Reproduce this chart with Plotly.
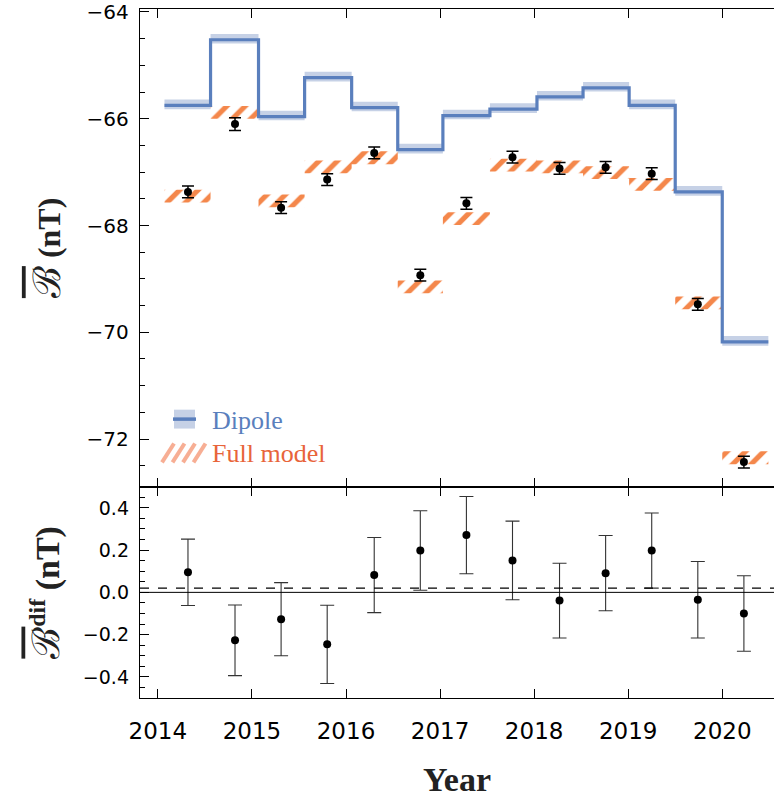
import plotly.graph_objects as go

# ---------------- data ----------------
bin_edges = [2014.07, 2014.56, 2015.07, 2015.56, 2016.06, 2016.55, 2017.03,
             2017.53, 2018.03, 2018.52, 2019.01, 2019.50, 2020.00, 2020.49]
t_mid = [2014.32, 2014.82, 2015.31, 2015.80, 2016.30, 2016.79, 2017.28,
         2017.77, 2018.27, 2018.76, 2019.25, 2019.74, 2020.23]
dipole = [-65.75, -64.52, -65.96, -65.23, -65.79, -66.58, -65.94,
          -65.82, -65.59, -65.42, -65.75, -67.37, -70.18]
dipole_band_lo = 0.07
dipole_band_hi = 0.11
full_model = [-67.45, -65.88, -67.54, -66.90, -66.73, -69.15, -67.87,
              -66.87, -66.90, -67.01, -67.23, -69.45, -72.35]
full_model_half = 0.12
observed = [-67.37, -66.10, -67.665, -67.14, -66.64, -68.93, -67.585,
            -66.72, -66.93, -66.91, -67.03, -69.475, -72.43]
observed_err = [0.11, 0.12, 0.11, 0.11, 0.11, 0.11, 0.11,
                0.11, 0.11, 0.11, 0.11, 0.11, 0.11]
dif = [0.095, -0.227, -0.127, -0.246, 0.082, 0.198, 0.271,
       0.151, -0.039, 0.091, 0.198, -0.035, -0.100]
dif_err = [0.157, 0.167, 0.173, 0.185, 0.178, 0.188, 0.183,
           0.186, 0.177, 0.178, 0.178, 0.181, 0.179]
dif_mean = 0.02

x_ticks = [2014, 2015, 2016, 2017, 2018, 2019, 2020]
x_ticktext = ["2014", "2015", "2016", "2017", "2018", "2019", "2020"]
y1_ticks = [-72, -70, -68, -66, -64]
y2_ticks = [-0.4, -0.2, 0.0, 0.2, 0.4]

BLUE = "#5a7fbd"
BAND = "#c6d1e6"
ORANGE = "#f4874b"
ORANGE_TXT = "#e8643a"

# ---------------- layout geometry ----------------
W, H = 774, 799
L, R, T, B = 140, 0, 5, 101
split_px = 485.5
ph = H - T - B
split = (H - B - split_px) / ph


def px_x(p):
    return (p - L) / (W - L - R)


def px_y(p):
    return (H - B - p) / ph


fig = go.Figure()

# Dipole uncertainty band (rectangles per bin)
bx, by = [], []
for i, v in enumerate(dipole):
    x0, x1 = bin_edges[i], bin_edges[i + 1]
    bx += [x0, x1, x1, x0, x0, None]
    by += [v - dipole_band_lo, v - dipole_band_lo, v + dipole_band_hi, v + dipole_band_hi, v - dipole_band_lo, None]
fig.add_trace(go.Scatter(x=bx, y=by, mode="lines", fill="toself", fillcolor=BAND,
                         line=dict(width=0), hoverinfo="skip", showlegend=False,
                         xaxis="x", yaxis="y"))

# Full model hatched bands
hx, hy = [], []
for i, v in enumerate(full_model):
    x0, x1 = bin_edges[i], bin_edges[i + 1]
    hx += [x0, x1, x1, x0, x0, None]
    hy += [v - full_model_half, v - full_model_half, v + full_model_half, v + full_model_half, v - full_model_half, None]
fig.add_trace(go.Scatter(x=hx, y=hy, mode="lines", fill="toself",
                         fillcolor="rgba(255,255,255,0)",
                         fillpattern=dict(shape="/", fgcolor=ORANGE, fgopacity=1,
                                          bgcolor="rgba(255,255,255,0)",
                                          size=13, solidity=0.4),
                         line=dict(width=0), hoverinfo="skip", showlegend=False,
                         xaxis="x", yaxis="y"))

# Dipole step line
sx = list(bin_edges)
sy = list(dipole) + [dipole[-1]]
fig.add_trace(go.Scatter(x=sx, y=sy, mode="lines", line=dict(color=BLUE, width=3.2, shape="hv"),
                         showlegend=False, xaxis="x", yaxis="y"))

# Observed points
fig.add_trace(go.Scatter(x=t_mid, y=observed, mode="markers",
                         marker=dict(color="black", size=8),
                         error_y=dict(type="data", array=observed_err, color="black",
                                      thickness=1.5, width=6),
                         showlegend=False, xaxis="x", yaxis="y"))

# Difference points
fig.add_trace(go.Scatter(x=t_mid, y=dif, mode="markers",
                         marker=dict(color="black", size=8),
                         error_y=dict(type="data", array=dif_err, color="#333333",
                                      thickness=1.1, width=7),
                         showlegend=False, xaxis="x2", yaxis="y2"))

tickfont_top = dict(family="DejaVu Sans", size=20, color="black")
tickfont_bot = dict(family="DejaVu Sans", size=19, color="black")
xfont = dict(family="DejaVu Sans", size=23, color="black")
title_font = dict(family="Liberation Serif", size=32, color="#222222")
title_font2 = dict(family="Liberation Serif", size=34, color="#222222")

Bsym = "<span style='font-family:DejaVu Serif;font-size:38px;text-decoration:overline'>\u212C</span>"

fig.update_layout(
    width=W, height=H,
    margin=dict(l=L, r=R, t=T, b=B),
    paper_bgcolor="white", plot_bgcolor="white",
    showlegend=False,
    xaxis=dict(domain=[0, 1], anchor="y", range=[2013.81, 2020.55],
               tickvals=x_ticks, ticks="inside", ticklen=9, tickwidth=1.3, tickcolor="black",
               showticklabels=False, showline=True, linecolor="black", linewidth=1.4,
               mirror="allticks", showgrid=False, zeroline=False),
    yaxis=dict(domain=[split, 1], anchor="x", range=[-72.893, -63.944],
               tickvals=y1_ticks, ticks="inside", ticklen=9, tickwidth=1.3, tickcolor="black",
               minor=dict(dtick=0.5, ticks="inside", ticklen=4.5, tickcolor="black", tickwidth=1),
               tickfont=tickfont_top, ticklabelstandoff=6, ticklabeloverflow="allow",
               showline=True, linecolor="black", linewidth=1.4,
               showgrid=False, zeroline=False,
               title=dict(text=Bsym + " <b>(nT)</b>", font=title_font, standoff=16)),
    xaxis2=dict(domain=[0, 1], anchor="y2", range=[2013.81, 2020.55], matches="x",
                tickvals=x_ticks, ticktext=x_ticktext, ticks="inside", ticklen=9, tickwidth=1.3,
                tickcolor="black", tickfont=xfont, ticklabelstandoff=12, ticklabeloverflow="allow",
                showline=True, linecolor="black", linewidth=1.4, mirror="allticks",
                showgrid=False, zeroline=False,
                title=dict(text="<b>Year</b>", font=dict(family="Liberation Serif", size=34, color="#222222"),
                           standoff=24)),
    yaxis2=dict(domain=[0, split], anchor="x2", range=[-0.5, 0.5],
                tickvals=y2_ticks, ticks="inside", ticklen=9, tickwidth=1.3, tickcolor="black",
                minor=dict(dtick=0.05, ticks="inside", ticklen=4.5, tickcolor="black", tickwidth=1),
                tickfont=tickfont_bot, ticklabelstandoff=6, tickformat=".1f", ticklabeloverflow="allow",
                showline=True, linecolor="black", linewidth=1.4,
                showgrid=False, zeroline=False,
                title=dict(text=Bsym + "<sup><b>dif</b></sup> <b>(nT)</b>", font=title_font2, standoff=12)),
)

# zero and mean lines on the difference panel
fig.add_shape(type="line", xref="x2 domain", yref="y2", x0=0, x1=1, y0=0, y1=0,
              line=dict(color="black", width=1))
fig.add_shape(type="line", xref="x2 domain", yref="y2", x0=0, x1=1, y0=dif_mean, y1=dif_mean,
              line=dict(color="black", width=1.4, dash="dash"))

# ---------------- custom legend ----------------
fig.add_shape(type="rect", xref="paper", yref="paper",
              x0=px_x(174), x1=px_x(195), y0=px_y(427), y1=px_y(408),
              fillcolor=BAND, line=dict(width=0))
fig.add_shape(type="line", xref="paper", yref="paper",
              x0=px_x(173), x1=px_x(196), y0=px_y(417.5), y1=px_y(417.5),
              line=dict(color=BLUE, width=3.5))
for k in range(4):
    xa = 162 + k * 10.5
    fig.add_shape(type="line", xref="paper", yref="paper",
                  x0=px_x(xa), x1=px_x(xa + 12), y0=px_y(461), y1=px_y(442),
                  line=dict(color="rgba(242,130,90,0.65)", width=4))
fig.add_annotation(xref="paper", yref="paper", x=px_x(210), y=px_y(419),
                   xanchor="left", yanchor="middle", showarrow=False,
                   text="Dipole", font=dict(family="Liberation Serif", size=26, color=BLUE))
fig.add_annotation(xref="paper", yref="paper", x=px_x(210), y=px_y(452),
                   xanchor="left", yanchor="middle", showarrow=False,
                   text="Full model", font=dict(family="Liberation Serif", size=26, color=ORANGE_TXT))

fig.write_html("out.html", config={"displayModeBar": False},
               post_script="document.body.style.margin='0px';document.body.style.overflow='hidden';")
